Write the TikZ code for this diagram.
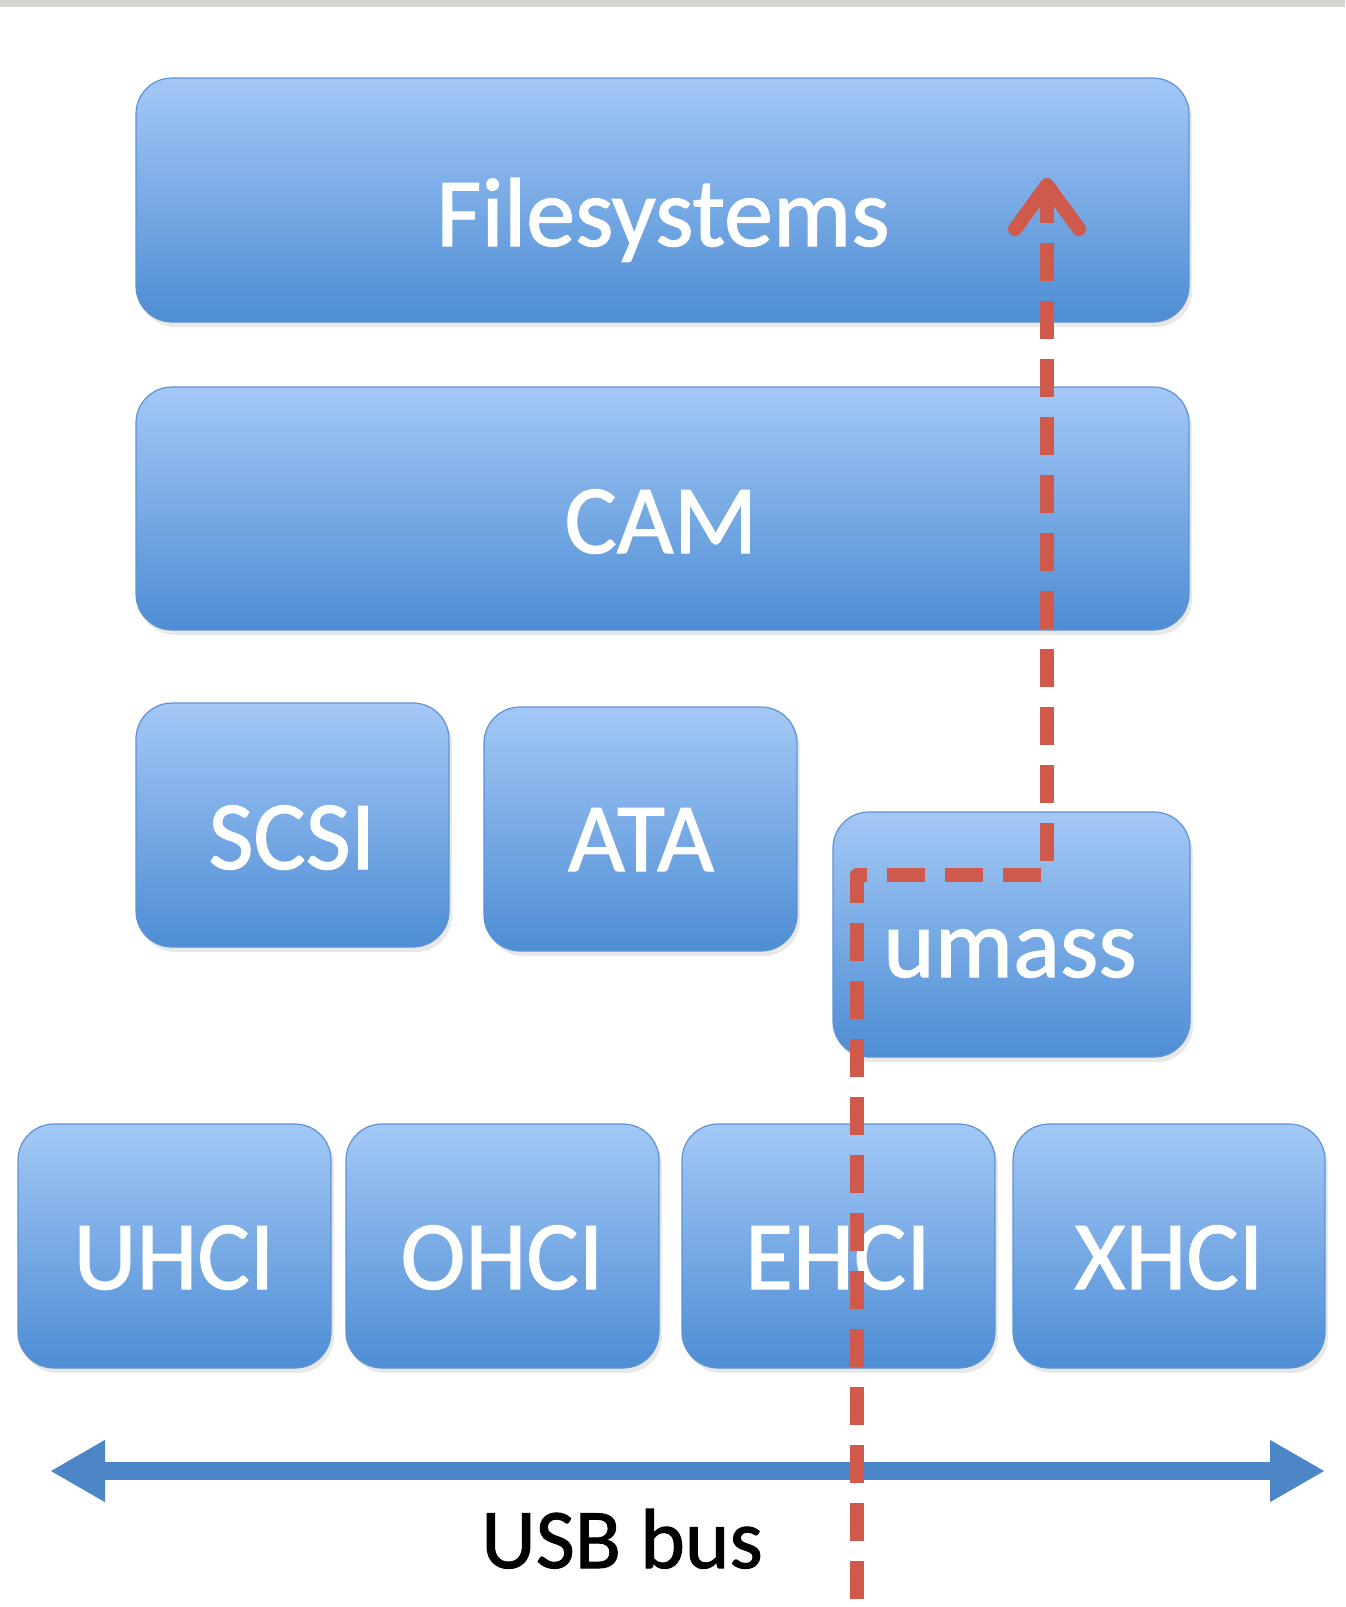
\documentclass[tikz,border=0pt]{standalone}
\usepackage{fontspec}
\setmainfont{Carlito}
\newfontfamily\lblfont[FakeBold=1.2]{Carlito}
\usetikzlibrary{arrows.meta,shadows}
\definecolor{boxtop}{HTML}{A3C8F6}
\definecolor{boxbot}{HTML}{4E8DD4}
\definecolor{boxedge}{HTML}{5F93D3}
\definecolor{busblue}{HTML}{4C86C6}
\definecolor{pathred}{HTML}{CF5A4C}
\definecolor{topgray}{HTML}{D6D6D0}
\tikzset{
  layer/.style={rounded corners=36pt, draw=boxedge, line width=1.2pt,
    top color=boxtop, bottom color=boxbot, inner sep=0pt,
    drop shadow={shadow xshift=3pt, shadow yshift=-5pt, opacity=0.18}},
  lbl/.style={anchor=base, text=white, font=\lblfont\fontsize{98}{110}\selectfont, inner sep=0pt},
}
\begin{document}
\begin{tikzpicture}[x=1pt,y=-1pt]
\useasboundingbox (0,0) rectangle (1345,1607);
\fill[white] (0,0) rectangle (1345,1607);
\fill[topgray] (0,0) rectangle (1345,7);

% layer boxes
\node[layer, minimum width=1053pt, minimum height=244pt] (fs) at (662.5,200) {};
\node[layer, minimum width=1053pt, minimum height=243pt] (cam) at (662.5,508.5) {};
\node[layer, minimum width=313pt, minimum height=244pt] (scsi) at (292.5,825) {};
\node[layer, minimum width=313pt, minimum height=244pt] (ata) at (640.5,829) {};
\node[layer, minimum width=357pt, minimum height=245pt] (umass) at (1011.5,934.5) {};
\node[layer, minimum width=313pt, minimum height=244pt] (uhci) at (174.5,1246) {};
\node[layer, minimum width=313pt, minimum height=244pt] (ohci) at (502.5,1246) {};
\node[layer, minimum width=313pt, minimum height=244pt] (ehci) at (838.5,1246) {};
\node[layer, minimum width=312pt, minimum height=244pt] (xhci) at (1169,1246) {};

% labels
\node[lbl] (fsT) at (663,246) {Filesystems};
\node[lbl] (camT) at (661,553) {CAM};
\node[lbl] (scsiT) at (292,869) {SCSI};
\node[lbl] (ataT) at (641,871) {ATA};
\node[lbl] (umassT) at (1010,977) {umass};
\node[lbl] (uhciT) at (174,1289) {UHCI};
\node[lbl] (ohciT) at (502,1289) {OHCI};
\node[lbl] (ehciT) at (838,1289) {EHCI};
\node[lbl] (xhciT) at (1169,1289) {XHCI};

% USB bus
\coordinate (busL) at (50,1471);
\coordinate (busR) at (1325,1471);
\draw[busblue, line width=18pt, {Triangle[length=55pt,width=58pt]}-{Triangle[length=55pt,width=58pt]}] (busL) -- (busR);
\node[anchor=base, text=black, font=\lblfont\fontsize{85}{96}\selectfont, inner sep=0pt] (usb) at (622,1568) {USB bus};

% data path
\coordinate (dStart) at (857,1599);
\coordinate (dB1) at (857,875);
\coordinate (dB2) at (1047,875);
\coordinate (dTip) at (1047,178);
\draw[pathred, line width=14pt, dash pattern=on 38pt off 20pt, line join=round,
  -{Straight Barb[length=44pt,width=64pt,round]}] (dStart) -- (dB1) -- (dB2) -- (dTip);
\end{tikzpicture}
\end{document}
